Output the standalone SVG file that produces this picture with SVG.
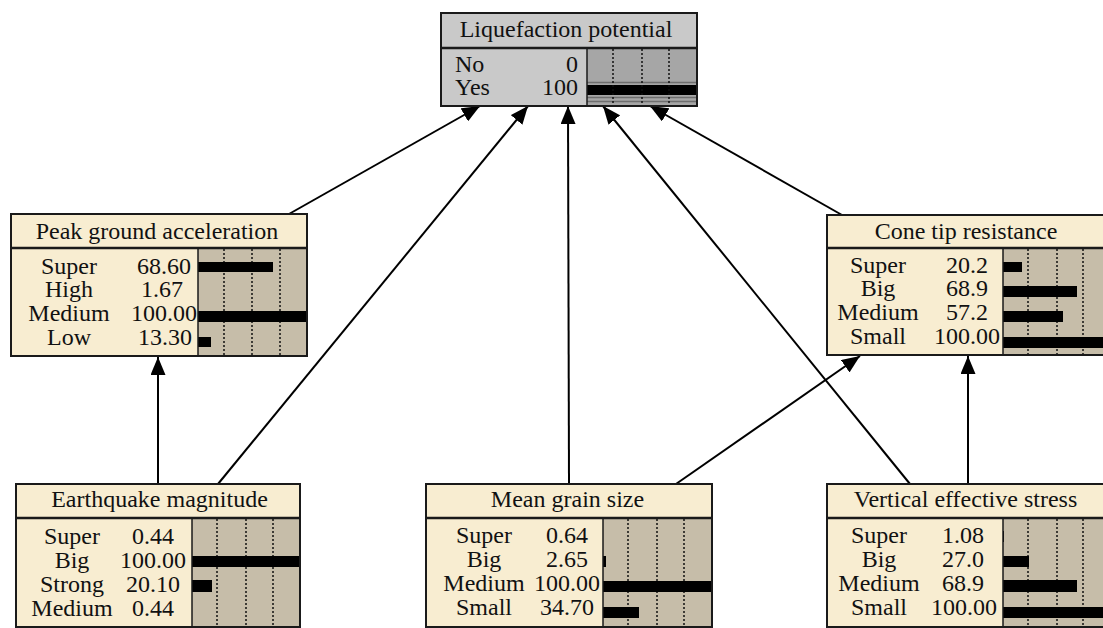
<svg xmlns="http://www.w3.org/2000/svg" width="1103" height="628" viewBox="0 0 1103 628">
  <defs>
    <marker id="arrow" markerUnits="userSpaceOnUse" markerWidth="18" markerHeight="15" refX="18" refY="7.5" orient="auto">
      <path d="M0,0 L18,7.5 L0,15 z" fill="#000"/>
    </marker>
    <style>
      .t { font-family: "Liberation Serif", "Times New Roman", serif; font-size: 24px; fill: #111; }
      .c { text-anchor: middle; }
      .e { text-anchor: end; }
      .hdr { fill: #f8edd1; stroke: #1a1a1a; stroke-width: 2; }
      .body { fill: #f8edd1; }
      .bars { fill: #c6bda9; }
      .ghdr { fill: #c9c9c9; stroke: #1a1a1a; stroke-width: 2; }
      .gbody { fill: #c9c9c9; }
      .gbars { fill: #a6a6a6; }
      .frame { fill: none; stroke: #1a1a1a; stroke-width: 2; }
      .sep { stroke: #1a1a1a; stroke-width: 2.5; }
      .div { stroke: #1a1a1a; stroke-width: 1.5; }
      .dot { stroke: #111; stroke-width: 1.5; stroke-dasharray: 2 2; }
      .bar { fill: #000; }
      .hl { stroke: #6e6e6e; stroke-width: 1.5; }
      .link { fill: none; stroke: #000; stroke-width: 2; marker-end: url(#arrow); }
    </style>
  </defs>
  <rect width="1103" height="628" fill="#fff"/>

  <!-- links between nodes -->
  <g id="connectors">
    <line class="link" x1="289" y1="214" x2="480" y2="106"/>
    <line class="link" x1="218" y1="484" x2="528" y2="106"/>
    <line class="link" x1="569" y1="484" x2="568" y2="106"/>
    <line class="link" x1="910" y1="484" x2="603" y2="106"/>
    <line class="link" x1="842" y1="215" x2="650" y2="106"/>
    <line class="link" x1="158" y1="484" x2="158" y2="357"/>
    <line class="link" x1="676" y1="484" x2="860" y2="356"/>
    <line class="link" x1="968" y1="484" x2="968" y2="356"/>
  </g>

  <!-- Liquefaction potential -->
  <g id="liquefaction">
    <rect class="gbody" x="441" y="48" width="146" height="58"/>
    <rect class="gbars" x="587" y="48" width="110" height="58"/>
    <line class="hl" x1="587" y1="82.5" x2="697" y2="82.5"/>
    <rect class="bar" x="587" y="85" width="110" height="10"/>
    <line class="hl" x1="587" y1="97.5" x2="697" y2="97.5"/>
    <line class="hl" x1="587" y1="101.5" x2="697" y2="101.5"/>
    <line class="dot" x1="613" y1="49" x2="613" y2="105"/>
    <line class="dot" x1="642" y1="49" x2="642" y2="105"/>
    <line class="dot" x1="669" y1="49" x2="669" y2="105"/>
    <rect class="ghdr" x="441" y="13" width="256" height="35"/>
    <line class="div" x1="587" y1="48" x2="587" y2="106"/>
    <rect class="frame" x="441" y="13" width="256" height="93"/>
    <line class="sep" x1="441" y1="48" x2="697" y2="48"/>
    <text class="t c" x="566" y="37">Liquefaction potential</text>
    <text class="t" x="455" y="72">No</text>
    <text class="t e" x="578" y="72">0</text>
    <text class="t" x="455" y="95">Yes</text>
    <text class="t e" x="578" y="95">100</text>
  </g>

  <!-- Peak ground acceleration -->
  <g id="pga">
    <rect class="body" x="11" y="248" width="187" height="108"/>
    <rect class="bars" x="198" y="248" width="109" height="108"/>
    <line class="dot" x1="224" y1="249" x2="224" y2="355"/>
    <line class="dot" x1="252" y1="249" x2="252" y2="355"/>
    <line class="dot" x1="280" y1="249" x2="280" y2="355"/>
    <rect class="bar" x="198" y="262" width="75" height="10"/>
    <rect class="bar" x="198" y="311" width="109" height="11"/>
    <rect class="bar" x="198" y="337" width="13" height="10"/>
    <rect class="hdr" x="11" y="214" width="296" height="34"/>
    <line class="div" x1="198" y1="248" x2="198" y2="356"/>
    <rect class="frame" x="11" y="214" width="296" height="142"/>
    <line class="sep" x1="11" y1="248" x2="307" y2="248"/>
    <text class="t c" x="157" y="238.5">Peak ground acceleration</text>
    <text class="t c" x="69" y="274">Super</text>
    <text class="t c" x="164" y="274">68.60</text>
    <text class="t c" x="69" y="297">High</text>
    <text class="t c" x="162" y="297">1.67</text>
    <text class="t c" x="69" y="320.5">Medium</text>
    <text class="t c" x="164" y="320.5">100.00</text>
    <text class="t c" x="69" y="344.5">Low</text>
    <text class="t c" x="165" y="344.5">13.30</text>
  </g>

  <!-- Cone tip resistance -->
  <g id="cone">
    <rect class="body" x="827" y="248" width="176" height="107"/>
    <rect class="bars" x="1003" y="248" width="109" height="107"/>
    <line class="dot" x1="1028" y1="249" x2="1028" y2="354"/>
    <line class="dot" x1="1057" y1="249" x2="1057" y2="354"/>
    <line class="dot" x1="1083" y1="249" x2="1083" y2="354"/>
    <rect class="bar" x="1003" y="262" width="19" height="10"/>
    <rect class="bar" x="1003" y="286" width="74" height="11"/>
    <rect class="bar" x="1003" y="311" width="60" height="11"/>
    <rect class="bar" x="1003" y="337" width="109" height="11"/>
    <rect class="hdr" x="827" y="215" width="285" height="33"/>
    <line class="div" x1="1003" y1="248" x2="1003" y2="355"/>
    <rect class="frame" x="827" y="215" width="285" height="140"/>
    <line class="sep" x1="827" y1="248" x2="1112" y2="248"/>
    <text class="t c" x="966" y="238.5">Cone tip resistance</text>
    <text class="t c" x="878" y="272.5">Super</text>
    <text class="t c" x="967" y="272.5">20.2</text>
    <text class="t c" x="878" y="296">Big</text>
    <text class="t c" x="967" y="296">68.9</text>
    <text class="t c" x="878" y="319.5">Medium</text>
    <text class="t c" x="967" y="319.5">57.2</text>
    <text class="t c" x="878" y="343.5">Small</text>
    <text class="t c" x="967" y="343.5">100.00</text>
  </g>

  <!-- Earthquake magnitude -->
  <g id="earthquake">
    <rect class="body" x="16" y="518" width="176" height="112"/>
    <rect class="bars" x="192" y="518" width="108" height="112"/>
    <line class="dot" x1="217" y1="519" x2="217" y2="628"/>
    <line class="dot" x1="246" y1="519" x2="246" y2="628"/>
    <line class="dot" x1="273" y1="519" x2="273" y2="628"/>
    <rect class="bar" x="192" y="556" width="108" height="11"/>
    <rect class="bar" x="192" y="580" width="20" height="12"/>
    <rect class="hdr" x="16" y="484" width="284" height="34"/>
    <line class="div" x1="192" y1="518" x2="192" y2="628"/>
    <rect class="frame" x="16" y="484" width="284" height="143"/>
    <line class="sep" x1="16" y1="518" x2="300" y2="518"/>
    <text class="t c" x="159.5" y="506.5">Earthquake magnitude</text>
    <text class="t c" x="72" y="544">Super</text>
    <text class="t c" x="153" y="544">0.44</text>
    <text class="t c" x="72" y="568">Big</text>
    <text class="t c" x="153" y="568">100.00</text>
    <text class="t c" x="72" y="592">Strong</text>
    <text class="t c" x="153" y="592">20.10</text>
    <text class="t c" x="72" y="616">Medium</text>
    <text class="t c" x="153" y="616">0.44</text>
  </g>

  <!-- Mean grain size -->
  <g id="grain">
    <rect class="body" x="426" y="518" width="177" height="112"/>
    <rect class="bars" x="603" y="518" width="109" height="112"/>
    <line class="dot" x1="628" y1="519" x2="628" y2="628"/>
    <line class="dot" x1="657" y1="519" x2="657" y2="628"/>
    <line class="dot" x1="684" y1="519" x2="684" y2="628"/>
    <rect class="bar" x="603" y="556" width="3" height="11"/>
    <rect class="bar" x="603" y="581" width="109" height="11"/>
    <rect class="bar" x="603" y="607" width="36" height="11"/>
    <rect class="hdr" x="426" y="484" width="286" height="34"/>
    <line class="div" x1="603" y1="518" x2="603" y2="628"/>
    <rect class="frame" x="426" y="484" width="286" height="143"/>
    <line class="sep" x1="426" y1="518" x2="712" y2="518"/>
    <text class="t c" x="567.5" y="506.5">Mean grain size</text>
    <text class="t c" x="484" y="543">Super</text>
    <text class="t c" x="567" y="543">0.64</text>
    <text class="t c" x="484" y="567">Big</text>
    <text class="t c" x="567" y="567">2.65</text>
    <text class="t c" x="484" y="590.5">Medium</text>
    <text class="t c" x="567" y="590.5">100.00</text>
    <text class="t c" x="484" y="615">Small</text>
    <text class="t c" x="567" y="615">34.70</text>
  </g>

  <!-- Vertical effective stress -->
  <g id="stress">
    <rect class="body" x="827" y="518" width="176" height="112"/>
    <rect class="bars" x="1003" y="518" width="109" height="112"/>
    <line class="dot" x1="1028" y1="519" x2="1028" y2="628"/>
    <line class="dot" x1="1057" y1="519" x2="1057" y2="628"/>
    <line class="dot" x1="1083" y1="519" x2="1083" y2="628"/>
    <rect class="bar" x="1003" y="531" width="1" height="11"/>
    <rect class="bar" x="1003" y="556" width="26" height="11"/>
    <rect class="bar" x="1003" y="580" width="74" height="12"/>
    <rect class="bar" x="1003" y="607" width="109" height="11"/>
    <rect class="hdr" x="827" y="484" width="285" height="34"/>
    <line class="div" x1="1003" y1="518" x2="1003" y2="628"/>
    <rect class="frame" x="827" y="484" width="285" height="143"/>
    <line class="sep" x1="827" y1="518" x2="1112" y2="518"/>
    <text class="t c" x="965.5" y="506.5">Vertical effective stress</text>
    <text class="t c" x="879" y="543">Super</text>
    <text class="t c" x="963" y="543">1.08</text>
    <text class="t c" x="879" y="567">Big</text>
    <text class="t c" x="963" y="567">27.0</text>
    <text class="t c" x="879" y="590.5">Medium</text>
    <text class="t c" x="963" y="590.5">68.9</text>
    <text class="t c" x="879" y="615">Small</text>
    <text class="t c" x="964" y="615">100.00</text>
  </g>
</svg>
